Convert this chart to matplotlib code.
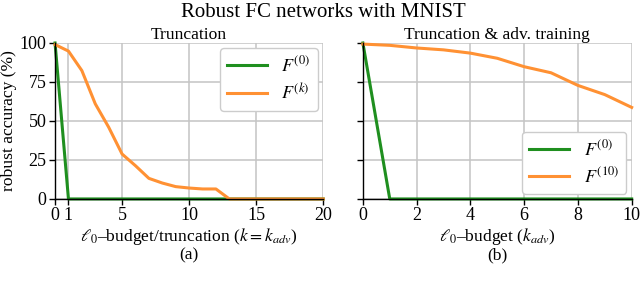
import matplotlib.pyplot as plt

plt.rcParams["font.family"] = ["Liberation Serif", "DejaVu Serif"]
plt.rcParams["mathtext.fontset"] = "stix"

# left panel: truncation only
k_left = list(range(0, 21))
f0_left = [100] + [0] * 20
fk_left = [99, 94.8, 82.3, 61, 46, 28.8, 21.3, 13.2, 10.2, 7.9, 7, 6.4, 6.4,
           0, 0, 0, 0, 0, 0, 0, 0]
left_ticks = [0, 1, 5, 10, 15, 20]

# right panel: truncation + adversarial training
k_right = list(range(0, 11))
f0_right = [100] + [0] * 10
f10_right = [99.3, 98.5, 96.8, 95.6, 93.5, 90.2, 84.8, 80.9, 72.8, 66.9, 58.7]
right_ticks = [0, 2, 4, 6, 8, 10]

green = "#1f8f1f"
orange = "#ff9133"

fig = plt.figure(figsize=(6.4, 2.81), dpi=100)
ax1 = fig.add_axes([0.086, 0.292, 0.419, 0.555])
ax2 = fig.add_axes([0.567, 0.292, 0.420, 0.555])


def styleAxes(ax):
    ax.grid(True, color="#c4c4c4", linewidth=1.1)
    ax.set_axisbelow(True)
    for s in ["top", "right"]:
        ax.spines[s].set_visible(False)
    for s in ["left", "bottom"]:
        ax.spines[s].set_color("black")
        ax.spines[s].set_linewidth(1)
    ax.tick_params(direction="out", length=4, width=1, labelsize=13, pad=2)
    ax.set_ylim(0, 100)
    ax.set_yticks([0, 25, 50, 75, 100])


ax1.plot(k_left, f0_left, color=green, lw=2.2, label="$F^{(0)}$", clip_on=False)
ax1.plot(k_left, fk_left, color=orange, lw=2.2, label="$F^{(k)}$", clip_on=False)
styleAxes(ax1)
ax1.set_xlim(0, 20)
ax1.set_xticks(left_ticks)
ax1.set_title("Truncation", fontsize=12.6, pad=3)
ax1.set_ylabel("robust accuracy (%)", fontsize=12.6, labelpad=2)
ax1.set_xlabel("$\\ell_0$–budget/truncation ($k = k_{adv}$)\n(a)", fontsize=12.6,
               labelpad=1, linespacing=1.05)
ax1.legend(loc="upper right", fontsize=13, framealpha=1, edgecolor="#cccccc",
           handlelength=2.2, borderaxespad=0.3, labelspacing=0.4)

ax2.plot(k_right, f0_right, color=green, lw=2.2, label="$F^{(0)}$", clip_on=False)
ax2.plot(k_right, f10_right, color=orange, lw=2.2, label="$F^{(10)}$", clip_on=False)
styleAxes(ax2)
ax2.set_yticklabels([])
ax2.set_xlim(0, 10)
ax2.set_xticks(right_ticks)
ax2.set_title("Truncation & adv. training", fontsize=12.6, pad=3)
ax2.set_xlabel("$\\ell_0$–budget ($k_{adv}$)\n(b)", fontsize=12.6,
               labelpad=1, linespacing=1.05)
ax2.legend(loc="lower right", fontsize=13, framealpha=1, edgecolor="#cccccc",
           handlelength=2.2, borderaxespad=0.3, labelspacing=0.4)

fig.suptitle("Robust FC networks with MNIST", fontsize=15, x=0.506, y=0.99)

fig.savefig("out.png", dpi=100)
